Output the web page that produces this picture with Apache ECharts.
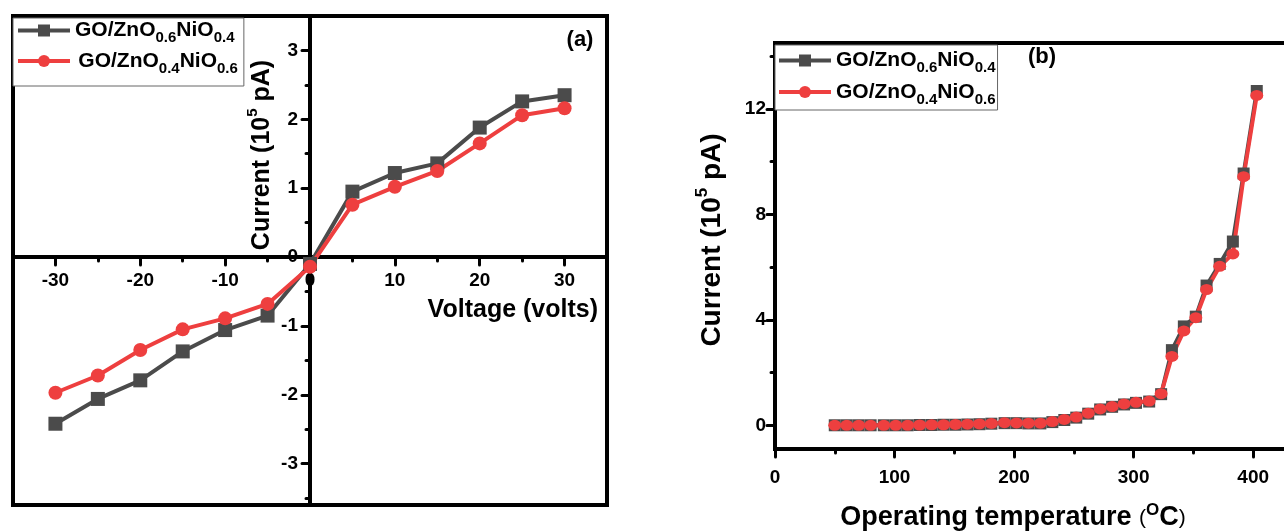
<!DOCTYPE html>
<html>
<head>
<meta charset="utf-8">
<script src="https://cdn.jsdelivr.net/npm/echarts@6.0.0/dist/echarts.min.js"></script>
<style>
  html, body { margin: 0; padding: 0; background: #fff; }
  #chart { width: 1284px; height: 532px; }
</style>
</head>
<body>
<div id="chart"></div>
<script>
// 数据 (a): I-V
const voltages = [-30, -25, -20, -15, -10, -5, 0, 5, 10, 15, 20, 25, 30]
const currentA1 = [-2.42, -2.06, -1.79, -1.37, -1.06, -0.85, -0.1, 0.95, 1.22, 1.36, 1.88, 2.26, 2.35]
const currentA2 = [-1.97, -1.72, -1.35, -1.05, -0.89, -0.68, -0.14, 0.76, 1.02, 1.25, 1.65, 2.06, 2.16]

// 数据 (b): current vs operating temperature
const temps = [50, 60, 70, 80, 91, 101, 111, 121, 131, 141, 151, 161, 171, 181, 192, 202, 212, 222,
    232, 242, 252, 262, 272, 282, 292, 302, 313, 323, 332, 342, 352, 361, 372, 383, 392, 403]
const currentB1 = [0, 0, 0, 0, 0, 0, 0, 0.01, 0.01, 0.02, 0.02, 0.03, 0.04, 0.06, 0.08, 0.08, 0.07, 0.07,
    0.12, 0.2, 0.29, 0.44, 0.6, 0.7, 0.79, 0.85, 0.9, 1.18, 2.85, 3.75, 4.12, 5.3, 6.12, 6.97, 9.55, 12.68]
const currentB2 = [0, 0, 0, 0, 0, 0, 0, 0.01, 0.02, 0.02, 0.03, 0.04, 0.05, 0.07, 0.1, 0.09, 0.08, 0.08,
    0.14, 0.22, 0.31, 0.46, 0.62, 0.71, 0.81, 0.87, 0.92, 1.2, 2.61, 3.58, 4.08, 5.15, 6.03, 6.5, 9.43, 12.51]

const seriesNames = ['GO/ZnO0.6NiO0.4', 'GO/ZnO0.4NiO0.6']

// ticks
const xTicksA = [-30, -20, -10, 0, 10, 20, 30]
const xMinorA = [-25, -15, -5, 5, 15, 25]
const yTicksA = [-3, -2, -1, 0, 1, 2, 3]
const yMinorA = [-3.5, -2.5, -1.5, -0.5, 0.5, 1.5, 2.5, 3.5]
const xTicksB = [0, 100, 200, 300, 400]
const xMinorB = [50, 150, 250, 350]
const yTicksB = [0, 4, 8, 12]
const yMinorB = [2, 6, 10, 14]

const FONT = 'Liberation Sans'
const GRAY = '#4b4b4b'
const RED = '#ee3f3f'

const zip = (xs, ys) => xs.map((x, i) => [x, ys[i]])

const legendName = (n) => {
    const p = n.match(/GO\/ZnO([\d.]+)NiO([\d.]+)/)
    return `{m|GO/ZnO}{s|${p[1]}}{m|NiO}{s|${p[2]}}`
}
const legendRich = {
    m: { fontSize: 21, fontWeight: 'bold', fontFamily: FONT, color: '#000', lineHeight: 30 },
    s: { fontSize: 15, fontWeight: 'bold', fontFamily: FONT, color: '#000', lineHeight: 14, verticalAlign: 'bottom' }
}

const labelStyle = { fontSize: 19, fontWeight: 'bold', fontFamily: FONT, color: '#000' }

// 一个刻度轴 (major 或 minor); offset 把 (a) 的轴移到 0 处
const mkAxis = (gridIndex, position, offset, min, max, ticks, len, labels, margin) => ({
    type: 'value',
    gridIndex,
    position,
    offset,
    min,
    max,
    axisLine: { onZero: false, lineStyle: { color: '#000', width: 4 } },
    splitLine: { show: false },
    axisTick: {
        show: true,
        customValues: ticks,
        length: len,
        lineStyle: { color: '#000', width: 3, cap: 'round' }
    },
    axisLabel: labels
        ? Object.assign({ show: true, customValues: ticks, margin }, labelStyle)
        : { show: false }
})

const yNameRich = (size) => ({
    a: { fontSize: size, fontWeight: 'bold', fontFamily: FONT, color: '#000', lineHeight: size + 8 },
    b: { fontSize: Math.round(size * 0.6), fontWeight: 'bold', fontFamily: FONT, color: '#000', lineHeight: 12, verticalAlign: 'top' }
})

const chart = echarts.init(document.getElementById('chart'))

const legendBase = {
    data: seriesNames,
    orient: 'vertical',
    itemWidth: 52,
    itemHeight: 15,
    borderColor: '#666',
    borderWidth: 1,
    backgroundColor: '#fff',
    lineStyle: { width: 4 },
    textStyle: { rich: legendRich }
}

// (a) 的网格与坐标范围
const xRangeA = [-35, 35]
const yRangeA = [-3.6, 3.5]
const gridA = { left: 13, top: 16, width: 594, height: 489, outerBoundsMode: 'none' }
const xOffA = -(0 - xRangeA[0]) / (xRangeA[1] - xRangeA[0]) * gridA.width
const yOffA = -(0 - yRangeA[0]) / (yRangeA[1] - yRangeA[0]) * gridA.height

const option = {
    animation: false,
    backgroundColor: '#fff',
    grid: [
        Object.assign({ show: true, borderColor: '#000', borderWidth: 4 }, gridA),
        { left: 775, top: 43, width: 526, height: 406, show: true, borderColor: '#000', borderWidth: 4, outerBoundsMode: 'none' },
        Object.assign({}, gridA) // minor ticks of (a)
    ],
    xAxis: [
        mkAxis(0, 'bottom', yOffA, xRangeA[0], xRangeA[1], xTicksA, 8, true, 14),
        mkAxis(2, 'bottom', yOffA, xRangeA[0], xRangeA[1], xMinorA, 4, false),
        mkAxis(1, 'bottom', 0, 0, 440, xTicksB, 8, true, 19),
        mkAxis(1, 'bottom', 0, 0, 440, xMinorB, 4, false)
    ],
    yAxis: [
        mkAxis(0, 'left', xOffA, yRangeA[0], yRangeA[1], yTicksA, 8, true, 12),
        mkAxis(2, 'left', xOffA, yRangeA[0], yRangeA[1], yMinorA, 4, false),
        mkAxis(1, 'left', 0, -0.9, 14.5, yTicksB, 8, true, 9),
        mkAxis(1, 'left', 0, -0.9, 14.5, yMinorB, 4, false)
    ],
    legend: [
        Object.assign({}, legendBase, {
            left: 13,
            top: 18,
            itemGap: 5,
            padding: [2, 6, 10, 3],
            formatter: (n) => (n === seriesNames[1] ? ' ' : '') + legendName(n)
        }),
        Object.assign({}, legendBase, {
            left: 775,
            top: 45,
            itemGap: 6,
            padding: [5, 2, 3, 2],
            formatter: legendName
        })
    ],
    graphic: [
        {
            type: 'text', x: 580, y: 40,
            style: { text: '(a)', fontSize: 22, fontWeight: 'bold', fontFamily: FONT, fill: '#000', align: 'center', verticalAlign: 'middle' }
        },
        {
            type: 'text', x: 1042, y: 57,
            style: { text: '(b)', fontSize: 22, fontWeight: 'bold', fontFamily: FONT, fill: '#000', align: 'center', verticalAlign: 'middle' }
        },
        {
            type: 'text', x: 598, y: 310,
            style: { text: 'Voltage (volts)', fontSize: 25, fontWeight: 'bold', fontFamily: FONT, fill: '#000', align: 'right', verticalAlign: 'middle' }
        },
        {
            type: 'text', x: 262, y: 155, rotation: Math.PI / 2,
            style: { text: '{a|Current (10}{b|5}{a| pA)}', rich: yNameRich(25), align: 'center', verticalAlign: 'middle' }
        },
        {
            type: 'text', x: 712, y: 240, rotation: Math.PI / 2,
            style: { text: '{a|Current (10}{b|5}{a| pA)}', rich: yNameRich(28), align: 'center', verticalAlign: 'middle' }
        },
        {
            type: 'text', x: 1013, y: 518,
            style: {
                text: '{a|Operating temperature }{p|(}{b|O}{a|C}{p|)}',
                rich: {
                    a: { fontSize: 27, fontWeight: 'bold', fontFamily: FONT, color: '#000', lineHeight: 32 },
                    p: { fontSize: 21, fontFamily: FONT, color: '#000', lineHeight: 32 },
                    b: { fontSize: 17, fontWeight: 'bold', fontFamily: FONT, color: '#000', lineHeight: 14, verticalAlign: 'top' }
                },
                align: 'center',
                verticalAlign: 'middle'
            }
        }
    ],
    series: [
        {
            name: seriesNames[0], type: 'line', xAxisIndex: 0, yAxisIndex: 0,
            data: zip(voltages, currentA1),
            symbol: 'rect', symbolSize: 14,
            lineStyle: { color: GRAY, width: 4 }, itemStyle: { color: GRAY }
        },
        {
            name: seriesNames[1], type: 'line', xAxisIndex: 0, yAxisIndex: 0,
            data: zip(voltages, currentA2),
            symbol: 'circle', symbolSize: 14,
            lineStyle: { color: RED, width: 4 }, itemStyle: { color: RED }
        },
        {
            name: seriesNames[0], type: 'line', xAxisIndex: 2, yAxisIndex: 2,
            data: zip(temps, currentB1),
            symbol: 'rect', symbolSize: 12,
            lineStyle: { color: GRAY, width: 4 }, itemStyle: { color: GRAY }
        },
        {
            name: seriesNames[1], type: 'line', xAxisIndex: 2, yAxisIndex: 2,
            data: zip(temps, currentB2),
            symbol: 'circle', symbolSize: [13, 11],
            lineStyle: { color: RED, width: 4 }, itemStyle: { color: RED }
        }
    ]
}

option && chart.setOption(option)
</script>
</body>
</html>
